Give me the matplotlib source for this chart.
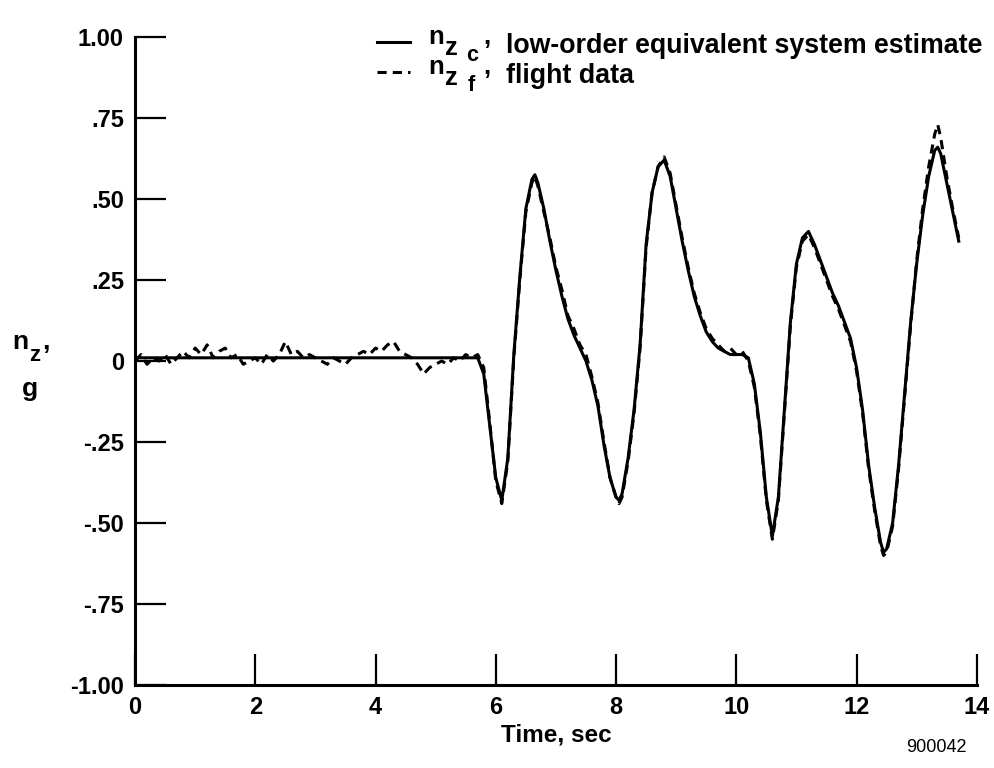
import matplotlib
matplotlib.use("Agg")
import matplotlib.pyplot as plt
from matplotlib.lines import Line2D

plt.rcParams['font.family'] = ['Liberation Sans', 'DejaVu Sans']

# low-order equivalent system estimate (solid)
t_est = [0.0, 0.5, 1.0, 1.5, 2.0, 2.5, 3.0, 3.5, 4.0, 4.5, 5.0, 5.5, 5.7,
         5.8, 5.9, 6.0, 6.1, 6.2, 6.3, 6.4, 6.5, 6.6, 6.65, 6.7, 6.8, 6.9,
         7.0, 7.1, 7.2, 7.3, 7.4, 7.5, 7.6, 7.7, 7.8, 7.9, 8.0, 8.05, 8.1,
         8.2, 8.3, 8.4, 8.5, 8.6, 8.7, 8.8, 8.9, 9.0, 9.1, 9.2, 9.3, 9.4,
         9.5, 9.6, 9.7, 9.8, 9.9, 10.0, 10.1, 10.2, 10.3, 10.4, 10.5, 10.6,
         10.7, 10.8, 10.9, 11.0, 11.1, 11.2, 11.3, 11.4, 11.5, 11.6, 11.7,
         11.8, 11.9, 12.0, 12.1, 12.2, 12.3, 12.4, 12.45, 12.5, 12.6, 12.7,
         12.8, 12.9, 13.0, 13.1, 13.2, 13.3, 13.35, 13.4, 13.5, 13.6, 13.7]
nz_est = [0.01, 0.01, 0.01, 0.01, 0.01, 0.01, 0.01, 0.01, 0.01, 0.01, 0.01, 0.01, 0.01,
          -0.04, -0.2, -0.36, -0.43, -0.3, 0.02, 0.26, 0.47, 0.56, 0.575, 0.55, 0.47, 0.37,
          0.28, 0.2, 0.13, 0.08, 0.04, 0.0, -0.06, -0.14, -0.26, -0.36, -0.42, -0.43, -0.41,
          -0.3, -0.15, 0.05, 0.36, 0.52, 0.6, 0.62, 0.57, 0.47, 0.37, 0.28, 0.2, 0.14,
          0.09, 0.06, 0.04, 0.03, 0.02, 0.02, 0.02, 0.01, -0.07, -0.22, -0.42, -0.54,
          -0.42, -0.15, 0.12, 0.3, 0.38, 0.4, 0.36, 0.31, 0.26, 0.21, 0.17,
          0.12, 0.07, -0.02, -0.15, -0.32, -0.45, -0.56, -0.59, -0.58, -0.5, -0.32,
          -0.1, 0.12, 0.3, 0.45, 0.57, 0.65, 0.66, 0.64, 0.55, 0.46, 0.37]

# flight data (dashed)
t_flt = [0.0, 0.1, 0.2, 0.3, 0.4, 0.5, 0.6, 0.7, 0.8, 0.9, 1.0, 1.1, 1.2, 1.3,
         1.4, 1.5, 1.6, 1.7, 1.8, 1.9, 2.0, 2.1, 2.2, 2.3, 2.4, 2.5, 2.6, 2.7,
         2.8, 2.9, 3.0, 3.1, 3.2, 3.3, 3.4, 3.5, 3.6, 3.7, 3.8, 3.9, 4.0, 4.1,
         4.2, 4.3, 4.4, 4.5, 4.6, 4.7, 4.8, 4.9, 5.0, 5.1, 5.2, 5.3, 5.4, 5.5,
         5.6, 5.7, 5.8, 5.9, 6.0, 6.1, 6.2, 6.3, 6.4, 6.5, 6.6, 6.65, 6.7, 6.8,
         6.9, 7.0, 7.1, 7.2, 7.3, 7.4, 7.5, 7.6, 7.7, 7.8, 7.9, 8.0, 8.05, 8.1,
         8.2, 8.3, 8.4, 8.5, 8.6, 8.7, 8.8, 8.9, 9.0, 9.1, 9.2, 9.3, 9.4, 9.5,
         9.6, 9.7, 9.8, 9.9, 10.0, 10.1, 10.2, 10.3, 10.4, 10.5, 10.6, 10.7,
         10.8, 10.9, 11.0, 11.1, 11.2, 11.3, 11.4, 11.5, 11.6, 11.7, 11.8, 11.9,
         12.0, 12.1, 12.2, 12.3, 12.4, 12.45, 12.5, 12.6, 12.7, 12.8, 12.9,
         13.0, 13.1, 13.2, 13.3, 13.35, 13.4, 13.5, 13.6, 13.7]
nz_flt = [0.0, 0.02, -0.01, 0.01, 0.0, 0.02, -0.01, 0.01, 0.03, 0.01, 0.04, 0.02, 0.05, 0.01,
          0.03, 0.04, 0.01, 0.02, -0.01, 0.0, 0.01, -0.01, 0.02, 0.0, 0.02, 0.06, 0.02, 0.03,
          0.01, 0.02, 0.01, 0.0, -0.01, 0.01, 0.0, -0.01, 0.01, 0.02, 0.03, 0.02, 0.04, 0.03,
          0.05, 0.06, 0.03, 0.02, 0.01, -0.01, -0.04, -0.02, -0.01, 0.0, -0.01, 0.01, 0.0, 0.02,
          0.01, 0.02, -0.02, -0.19, -0.37, -0.44, -0.31, 0.01, 0.25, 0.46, 0.55, 0.57, 0.54, 0.46,
          0.38, 0.29, 0.22, 0.14, 0.1, 0.05, 0.02, -0.05, -0.13, -0.25, -0.36, -0.42, -0.44, -0.42,
          -0.31, -0.16, 0.04, 0.35, 0.52, 0.6, 0.63, 0.58, 0.48, 0.38, 0.29, 0.21, 0.15, 0.1,
          0.07, 0.05, 0.03, 0.04, 0.02, 0.03, 0.0, -0.08, -0.23, -0.43, -0.55, -0.43,
          -0.16, 0.11, 0.29, 0.37, 0.39, 0.35, 0.3, 0.25, 0.2, 0.16, 0.11, 0.06,
          -0.03, -0.16, -0.33, -0.46, -0.57, -0.6, -0.59, -0.51, -0.33, -0.11, 0.11,
          0.31, 0.47, 0.6, 0.7, 0.73, 0.69, 0.57, 0.47, 0.38]

x_ticks = [0, 2, 4, 6, 8, 10, 12, 14]
y_ticks = [-1.0, -0.75, -0.5, -0.25, 0.0, 0.25, 0.5, 0.75, 1.0]
y_labels = ['-1.00', '-.75', '-.50', '-.25', '0', '.25', '.50', '.75', '1.00']

W, H = 995, 768


def px(x, y):
    # pixel position (from top-left) -> figure fraction
    return x / W, 1 - y / H


def put(x, y, s, size, weight='bold', va='baseline', ha='left'):
    fx, fy = px(x, y)
    fig.text(fx, fy, s, fontsize=size, fontweight=weight, va=va, ha=ha)


fig = plt.figure(figsize=(W / 100, H / 100), dpi=100)
ax = fig.add_axes([0.1357, 0.108, 0.846, 0.8438])

ax.plot(t_flt, nz_flt, color='black', lw=2.2, linestyle=(0, (3, 2)))
ax.plot(t_est, nz_est, color='black', lw=2.2)

ax.set_xlim(0, 14)
ax.set_ylim(-1, 1)
ax.set_xticks(x_ticks)
ax.set_xticklabels([str(v) for v in x_ticks])
ax.set_yticks(y_ticks)
ax.set_yticklabels(y_labels)
ax.tick_params(direction='in', length=22, width=1.6, labelsize=17, pad=8)
for lab in ax.get_xticklabels() + ax.get_yticklabels():
    lab.set_fontweight('bold')

ax.spines['top'].set_visible(False)
ax.spines['right'].set_visible(False)
ax.spines['left'].set_linewidth(2.2)
ax.spines['bottom'].set_linewidth(2.2)

ax.set_xlabel('Time, sec', fontsize=17.5, fontweight='bold', labelpad=3)

# legend, built by hand to get the stacked subscripts
for y0, ls in [(42, '-'), (72, (0, (3, 2)))]:
    x1, yy = px(377, y0)
    x2, _ = px(410, y0)
    fig.add_artist(Line2D([x1, x2], [yy, yy], color='black', lw=2.2,
                          linestyle=ls, transform=fig.transFigure))

put(428, 44, 'n', 18.5)
put(445, 55, 'z', 18.5)
put(466, 61, 'c', 15.5)
put(483, 44, ',', 18.5)
put(506, 53, 'low-order equivalent system estimate', 19.3)

put(428, 74, 'n', 18.5)
put(445, 85, 'z', 18.5)
put(468, 91, 'f', 15.5)
put(483, 74, ',', 18.5)
put(506, 83, 'flight data', 19.3)

# y axis label
put(12, 349, 'n', 19)
put(29, 361, 'z', 16)
put(42, 349, ',', 19)
put(30, 396, 'g', 19, ha='center')

put(936, 748, '900042', 13, weight='normal', va='center', ha='center')

fig.savefig('out.png', dpi=100)
